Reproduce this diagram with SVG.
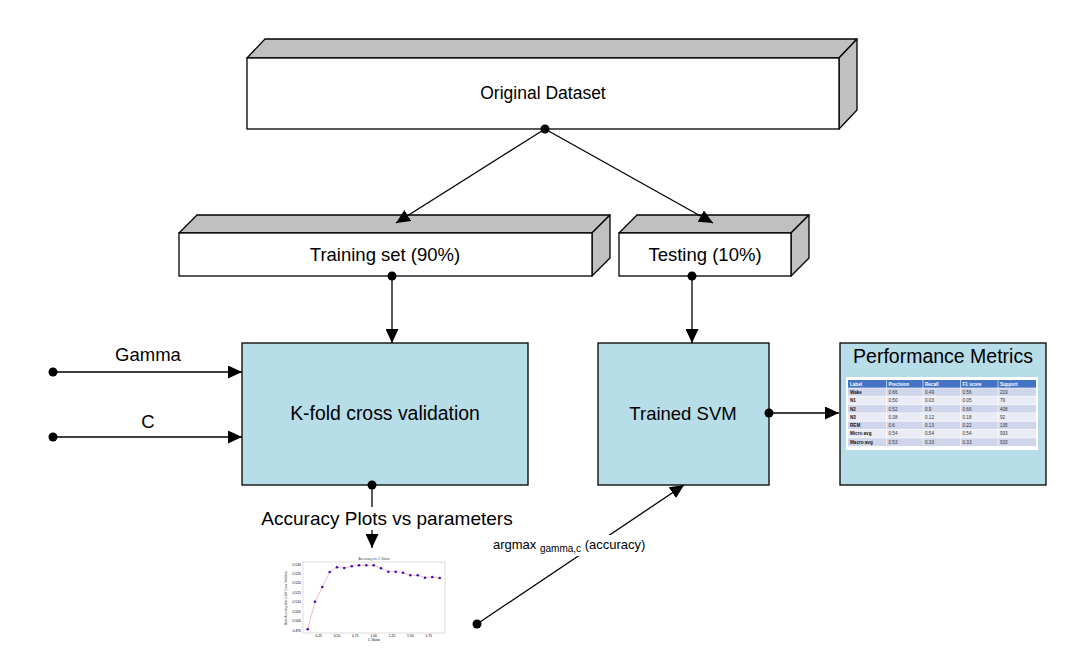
<svg xmlns="http://www.w3.org/2000/svg" width="1077" height="661" viewBox="0 0 1077 661">
<style>
text{font-family:"Liberation Sans",Arial,sans-serif;fill:#000}
.front{fill:#fff;stroke:#000;stroke-width:1.3}
.face{fill:#c0c0c0;stroke:#000;stroke-width:1.3;stroke-linejoin:round}
.blue{fill:#b7dde8;stroke:#000;stroke-width:1.3}
.lbl{font-size:18.5px;text-anchor:middle}
.con{stroke:#000;stroke-width:1.3;fill:none}
.arr{marker-end:url(#ah)}
.th{font-size:4.6px;fill:#fff;font-weight:bold}
.td{font-size:4.6px;fill:#333}
.tb{font-size:4.6px;fill:#111;font-weight:bold}
.tick{font-size:3.4px;fill:#444}
</style>
<defs>
<marker id="ah" markerWidth="14" markerHeight="13" refX="14" refY="6.5" orient="auto" markerUnits="userSpaceOnUse">
<path d="M0,0 L14,6.5 L0,13 z" fill="#000"/>
</marker>
</defs>
<rect width="1077" height="661" fill="#fff"/>

<g id="original-dataset">
<polygon class="face" points="247,58 265,39 857,39 839,58"/>
<polygon class="face" points="839,58 857,39 857,110 839,129"/>
<rect class="front" x="247" y="58" width="592" height="71"/>
<text class="lbl" x="543" y="99" style="font-size:17.5px">Original Dataset</text>
</g>

<g id="training-set">
<polygon class="face" points="179,233 197,215 610,215 592,233"/>
<polygon class="face" points="592,233 610,215 610,258 592,276"/>
<rect class="front" x="179" y="233" width="413" height="43"/>
<text class="lbl" x="385" y="261">Training set (90%)</text>
</g>

<g id="testing-set">
<polygon class="face" points="619,233 637,215 809,215 791,233"/>
<polygon class="face" points="791,233 809,215 809,258 791,276"/>
<rect class="front" x="619" y="233" width="172" height="43"/>
<text class="lbl" x="705" y="261">Testing (10%)</text>
</g>

<g id="kfold">
<rect class="blue" x="242" y="343" width="286" height="142"/>
<text class="lbl" x="385" y="420" style="font-size:19.4px">K-fold cross validation</text>
</g>

<g id="trained-svm">
<rect class="blue" x="598" y="343" width="171" height="142"/>
<text class="lbl" x="683" y="420">Trained SVM</text>
</g>

<g id="performance-metrics">
<rect class="blue" x="840" y="343" width="206" height="142"/>
<text x="943" y="363" style="font-size:19.5px;text-anchor:middle">Performance Metrics</text>
<rect x="846" y="377" width="192" height="73" fill="#fff"/>
<rect x="848" y="380" width="188" height="8" fill="#4472c4"/>
<rect x="848" y="388" width="188" height="8.3" fill="#cfd5ea"/>
<rect x="848" y="396.3" width="188" height="8.3" fill="#e9ebf5"/>
<rect x="848" y="404.6" width="188" height="8.3" fill="#cfd5ea"/>
<rect x="848" y="412.9" width="188" height="8.3" fill="#e9ebf5"/>
<rect x="848" y="421.2" width="188" height="8.3" fill="#cfd5ea"/>
<rect x="848" y="429.5" width="188" height="8.3" fill="#e9ebf5"/>
<rect x="848" y="437.8" width="188" height="8.3" fill="#cfd5ea"/>
<g stroke="#fff" stroke-width="0.6">
<line x1="886.5" y1="380" x2="886.5" y2="446"/>
<line x1="923" y1="380" x2="923" y2="446"/>
<line x1="960.5" y1="380" x2="960.5" y2="446"/>
<line x1="998" y1="380" x2="998" y2="446"/>
<line x1="848" y1="388" x2="1036" y2="388"/>
<line x1="848" y1="396.3" x2="1036" y2="396.3"/>
<line x1="848" y1="404.6" x2="1036" y2="404.6"/>
<line x1="848" y1="412.9" x2="1036" y2="412.9"/>
<line x1="848" y1="421.2" x2="1036" y2="421.2"/>
<line x1="848" y1="429.5" x2="1036" y2="429.5"/>
<line x1="848" y1="437.8" x2="1036" y2="437.8"/>
</g>
<text class="th" x="850" y="385.8">Label</text>
<text class="th" x="888.5" y="385.8">Precision</text>
<text class="th" x="925" y="385.8">Recall</text>
<text class="th" x="962.5" y="385.8">F1 score</text>
<text class="th" x="1000" y="385.8">Support</text>
<text class="tb" x="850" y="393.9">Wake</text><text class="td" x="888.5" y="393.9">0.66</text><text class="td" x="925" y="393.9">0.49</text><text class="td" x="962.5" y="393.9">0.56</text><text class="td" x="1000" y="393.9">219</text>
<text class="tb" x="850" y="402.2">N1</text><text class="td" x="888.5" y="402.2">0.50</text><text class="td" x="925" y="402.2">0.03</text><text class="td" x="962.5" y="402.2">0.05</text><text class="td" x="1000" y="402.2">79</text>
<text class="tb" x="850" y="410.5">N2</text><text class="td" x="888.5" y="410.5">0.52</text><text class="td" x="925" y="410.5">0.9</text><text class="td" x="962.5" y="410.5">0.66</text><text class="td" x="1000" y="410.5">408</text>
<text class="tb" x="850" y="418.8">N3</text><text class="td" x="888.5" y="418.8">0.38</text><text class="td" x="925" y="418.8">0.12</text><text class="td" x="962.5" y="418.8">0.18</text><text class="td" x="1000" y="418.8">92</text>
<text class="tb" x="850" y="427.1">REM</text><text class="td" x="888.5" y="427.1">0.6</text><text class="td" x="925" y="427.1">0.13</text><text class="td" x="962.5" y="427.1">0.22</text><text class="td" x="1000" y="427.1">135</text>
<text class="tb" x="850" y="435.4">Micro avg</text><text class="td" x="888.5" y="435.4">0.54</text><text class="td" x="925" y="435.4">0.54</text><text class="td" x="962.5" y="435.4">0.54</text><text class="td" x="1000" y="435.4">933</text>
<text class="tb" x="850" y="443.7">Macro avg</text><text class="td" x="888.5" y="443.7">0.53</text><text class="td" x="925" y="443.7">0.33</text><text class="td" x="962.5" y="443.7">0.33</text><text class="td" x="1000" y="443.7">933</text>
</g>

<g id="connectors">
<line class="con arr" x1="545" y1="129" x2="396" y2="223"/>
<line class="con arr" x1="545" y1="129" x2="713" y2="223"/>
<line class="con arr" x1="392" y1="276" x2="392" y2="343"/>
<line class="con arr" x1="692" y1="276" x2="692" y2="343"/>
<line class="con arr" x1="53" y1="372" x2="242" y2="372"/>
<line class="con arr" x1="53" y1="437" x2="242" y2="437"/>
<line class="con arr" x1="372" y1="485" x2="372" y2="548"/>
<line class="con arr" x1="769" y1="413" x2="839" y2="413"/>
<line class="con arr" x1="477" y1="624" x2="684" y2="485"/>
<g fill="#000">
<circle cx="545" cy="129" r="4.5"/>
<circle cx="392" cy="276" r="4.5"/>
<circle cx="692" cy="276" r="4.5"/>
<circle cx="53" cy="372" r="4.5"/>
<circle cx="53" cy="437" r="4.5"/>
<circle cx="372" cy="485" r="4.5"/>
<circle cx="769" cy="413" r="4.5"/>
<circle cx="477" cy="624" r="4.5"/>
</g>
</g>

<g id="labels">
<text class="lbl" x="148" y="361">Gamma</text>
<text class="lbl" x="148" y="428">C</text>
<rect x="258" y="507" width="258" height="23" fill="#fff"/>
<text class="lbl" x="387" y="525" style="font-size:19px">Accuracy Plots vs parameters</text>
<rect x="490" y="535" width="166" height="21" fill="#fff"/>
<text x="493" y="549" style="font-size:13px">argmax <tspan style="font-size:10px" dy="3">gamma,c</tspan><tspan dy="-3"> (accuracy)</tspan></text>
</g>

<g id="accuracy-plot">
<rect x="303" y="562" width="142" height="71" fill="#fff" stroke="#bbb" stroke-width="0.5"/>
<text class="tick" x="374" y="560" text-anchor="middle">Accuracy vs C Value</text>
<text class="tick" x="287" y="598" text-anchor="middle" transform="rotate(-90 287 598)" style="font-size:2.8px">Mean Accuracy after 5-fold Cross Validation</text>
<g class="tick" text-anchor="end">
<text x="301" y="565.5">0.530</text>
<text x="301" y="574.9">0.525</text>
<text x="301" y="584.3">0.520</text>
<text x="301" y="593.8">0.515</text>
<text x="301" y="603.2">0.510</text>
<text x="301" y="612.6">0.505</text>
<text x="301" y="622">0.500</text>
<text x="301" y="631.5">0.495</text>
</g>
<g class="tick" text-anchor="middle">
<text x="318.7" y="637">0.25</text>
<text x="337" y="637">0.50</text>
<text x="355.3" y="637">0.75</text>
<text x="373.7" y="637">1.00</text>
<text x="392" y="637">1.25</text>
<text x="410.3" y="637">1.50</text>
<text x="428.7" y="637">1.75</text>
<text x="374" y="641">C Value</text>
</g>
<polyline fill="none" stroke="#ff9c9c" stroke-width="0.7" points="307.7,629.3 315,601.7 322.3,587 329.7,572 337,567.3 344.3,568 351.7,566.3 359,565.3 366.3,565.3 373.7,565.3 381,568.3 388.3,571.7 395.7,571.7 403,572.7 410.3,575.3 417.7,575.3 425,577.7 432.3,577 439.7,578"/>
<g fill="#3a10c8">
<circle cx="307.7" cy="629.3" r="1.3"/><circle cx="315" cy="601.7" r="1.3"/><circle cx="322.3" cy="587" r="1.3"/><circle cx="329.7" cy="572" r="1.3"/><circle cx="337" cy="567.3" r="1.3"/><circle cx="344.3" cy="568" r="1.3"/><circle cx="351.7" cy="566.3" r="1.3"/><circle cx="359" cy="565.3" r="1.3"/><circle cx="366.3" cy="565.3" r="1.3"/><circle cx="373.7" cy="565.3" r="1.3"/><circle cx="381" cy="568.3" r="1.3"/><circle cx="388.3" cy="571.7" r="1.3"/><circle cx="395.7" cy="571.7" r="1.3"/><circle cx="403" cy="572.7" r="1.3"/><circle cx="410.3" cy="575.3" r="1.3"/><circle cx="417.7" cy="575.3" r="1.3"/><circle cx="425" cy="577.7" r="1.3"/><circle cx="432.3" cy="577" r="1.3"/><circle cx="439.7" cy="578" r="1.3"/>
</g>
</g>
</svg>
